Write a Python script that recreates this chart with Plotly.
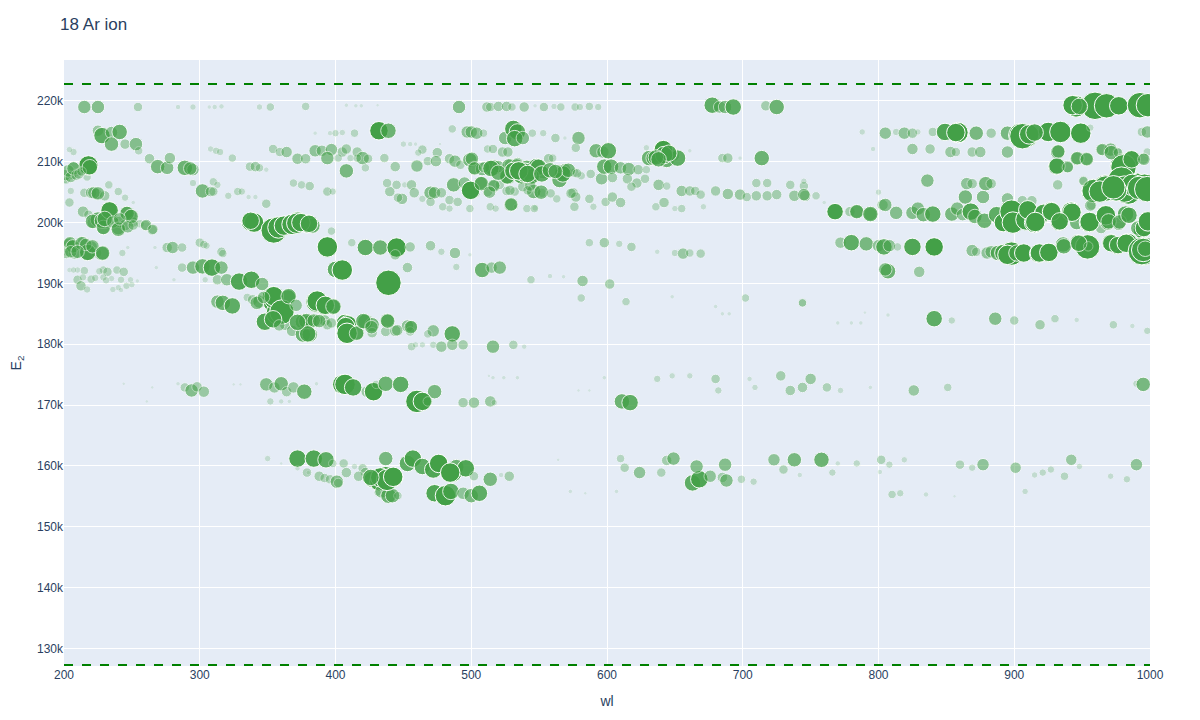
import plotly.graph_objects as go

TITLE = "18 Ar ion"
ionization_limit = 222.8
ground_limit = 127.25
y_ticks = [130, 140, 150, 160, 170, 180, 190, 200, 210, 220]
x_ticks = [200, 300, 400, 500, 600, 700, 800, 900, 1000]

# wavelength (nm), upper level energy (thousands), relative intensity
wl_a = [215,225,254.5,284,295,307,311,316,344,352,378,408,415,419,431,491,511.5,514,520,526,530,539,547,553.5,561,566,576.5,580,587,593.5,677.5,683,687,693,717,725,944.7,947,959.5,968,977,992.6,998.5]
e2_a = [219,219,219,219,219,219,219,219.1,219,219,219.1,219.3,219.2,219.2,219.3,219,219,219,219.1,219.1,219,219,219.2,219,219.1,219,219,219,219.1,219,219.3,219,219,219,219.2,219,219.2,219.2,219.2,219.2,219.2,219.3,219.3]
in_a = [12,12,8,4,5,3,4,4,5,7,7,3,3,3,2,12,9,8,9,9,7,9,3,8,5,7,7,6,7,6,15,11,12,15,9,14,18,17,26,23,17,24,22]

wl_b = [225,228,235,241,235,245,253,255,263,269,276,278,289,295,293,217.7,219,207,217,207,204,203,206,209,212,200,202,205,215,220,224,230,233,240,245,251,204]
e2_b = [215.1,214.3,214.8,214.9,212.9,212.9,212.9,211.8,210.5,209.2,209,210.6,209,208.7,208.9,209.3,209,209.2,207.5,211.6,212,207.5,207.8,208.2,208.4,207,206.9,205.2,204.9,204.9,204.7,204.4,206.2,205.1,204.1,203.3,203.3]
in_b = [10,15,11,14,13,9,12,7,9,13,12,10,14,11,12,17,10,9,7,6,5,8,8,7,7,7,6,6,8,10,10,9,7,7,6,3,8]

wl_c = [214,218,221.5,225,229,230,233,236,240,241,246,249,245,251,256,260,265,204,206,202,208,214,217,220,224,228,243,247,267,276,280,287]
e2_c = [201.8,201.3,200,200.5,199,200.1,202.1,200.5,199.1,200.1,201.6,201.1,199.6,200.1,199.8,199.5,198.8,196.4,196,195,195,196.7,195,196,195,194.9,195,195.9,195.9,195.9,195.9,195.9]
in_c = [10,8,11,14,11,12,15,10,12,10,12,12,10,9,7,9,9,12,12,10,11,11,14,11,9,13,6,3,3,9,11,8]

wl_d = [300,303,305,316,317,287,295,302,309,316,304,313,320,329,338,346,204,210,215,229,232,239,244,210,212.5,217,220,229,235,242,249,246,240,254,268,281,439,394,400,405]
e2_d = [196.7,196.4,196.2,195.2,194.9,192.6,192.6,192.8,192.6,192.6,190.6,190.6,190.6,190.3,190.6,189.9,192.2,192.2,192.1,192.2,191.9,192.2,191.9,190.6,189.6,189,190.7,191,190.8,190.6,190.6,189.6,189.3,190.4,192.6,190.6,190.1,196,192.3,192.2]
in_d = [8,7,6,8,7,8,12,14,16,12,5,9,11,16,16,12,4,5,7,7,8,7,8,8,9,6,7,6,5,6,5,6,5,3,3,3,24,19,15,19]

wl_e = [313,317,324,335,339,344,353,357,365,354,386,392,398,348,358,342,363,368,376,376,381,381,386,392,394,407,409,409,416,422,427,427,438,437,444,453,456,455,472,468,486,456,459,464,472,478,486,494,516,531,539,354]
e2_e = [187,186.8,186.3,187.7,187.3,187,187.7,186,187.7,186.8,187,186.3,186.1,183.7,185.2,186.8,183.2,182.2,183.7,181.6,181.6,183.7,183.9,183.9,183.2,183.5,181.6,183.2,181.9,183.7,183.2,181.9,183.9,182.1,182.2,183,182.9,182.1,182.2,181.7,181.7,179.6,179.9,179.9,179.9,179.6,179.9,179.9,179.6,179.9,179.6,187.3]
in_e = [12,14,15,7,9,12,18,20,14,18,20,17,14,16,23,12,10,10,14,14,14,13,11,10,9,16,16,17,13,14,13,9,13,9,10,11,11,8,11,7,15,7,5,5,6,10,10,9,12,8,4,16]

wl_f = [412,422,433,445,455,470,478,488,499,508,515,521,544,558,568,582,602,581,614,587,598,609,618,637,650,656,661,669,444,453,489,702,744,648,680,685,690,770,780,790]
e2_f = [196.7,195.9,195.9,195.9,196,196.2,195.2,195,194.7,192.2,192.6,192.6,190.6,191.2,191.1,190.4,189.9,187.6,187,196.7,196.7,196.5,196,195.2,195,194.9,195,194.9,194.7,192.6,192.7,187.6,186.8,187.8,186.2,185,185,183.5,183.5,185.2]
in_f = [7,15,14,18,9,9,6,10,3,14,10,12,7,4,3,10,9,7,7,7,9,6,8,4,6,10,7,8,9,9,6,7,7,3,3,3,3,3,3,2]

wl_g = [349,355,360,364,369,377,352,360,366,386,405,407,413,423,428,430,437,448,473,460,464,468,494,502,514,517,513,516,524,534,244,265,284,289,294,298,303,261,325,330,598,611,617,579,587,637,648,661,680,682,705,709,728,735,744,750,762,772,826,851,794,990,995]
e2_g = [173.4,172.9,173.5,172.2,172.9,172.2,170.6,170.6,170.6,173.5,173.4,173.4,172.9,172.2,172.2,173.4,173.5,173.4,172.2,170.6,170.6,170.6,170.4,170.4,170.6,170.4,174.8,174.5,174.5,174.5,173.5,172.9,173.5,172.9,172.4,173,172.2,170.6,173.4,173.4,174.5,170.6,170.4,172.4,172.4,174.3,174.8,174.8,174.3,172.4,174.3,172.9,174.8,172.4,172.9,174.3,172.9,172.4,172.4,172.9,172.9,173.5,173.4]
in_g = [12,10,13,9,10,14,6,4,3,3,18,19,16,10,17,7,14,15,13,21,17,8,9,10,10,5,2,3,3,3,2,2,3,8,12,9,10,2,2,2,3,14,15,2,2,6,5,5,8,6,4,5,9,9,9,10,8,5,10,7,3,6,13]

wl_h = [841,854,886,900,919,930,946,973,987,998,350,372,384,393,398,406,414,420,422,408,417,427,432,437,443,437,453,457,464,472,476,486,489,496,502,514,528,522,473,481,485,494,500,506,434,439,442,446,431,388,392,396,401,402,379,372,380,360]
e2_h = [184.2,183.9,184.2,183.9,183.2,184.2,184,183.2,183,182.2,161.2,161.2,161.2,161,160.4,160.4,159.9,159.6,158.9,158.9,158.3,157.8,157.4,158.3,158.1,161.2,160.4,161.2,159.9,159.4,160.4,158.9,159.8,159.6,158.3,157.8,158.3,158.5,155.5,155.1,155.8,155.5,155.1,155.5,155.8,155.1,155.1,155.1,155.6,158.3,158,157.8,157.4,157.2,158.9,159.6,158.9,160.4]
in_h = [15,6,12,8,9,7,4,7,4,6,5,16,16,15,7,8,5,8,9,9,9,15,17,18,17,13,15,16,15,16,17,18,14,16,8,13,9,4,16,19,15,11,13,15,12,14,13,7,6,9,8,8,12,8,8,4,3,2]

wl_i = [610,613,624,640,644,649,663,668,666,676,687,685,688,699,708,723,730,738,742,758,766,770,784,801,802,808,819,810,816,835,860,869,877,901,908,915,921,927,937,942,948,971,983,990,573,584,607,564,856]
e2_i = [161.2,159.7,158.9,158.9,160.9,161.2,157.2,157.8,159.9,158.3,160.2,158.1,157.6,157.8,157.4,161,159.4,161,158.5,161,158.9,160.4,160.4,159,161,160.2,161,155.3,155.5,155.3,160.2,159.7,160.2,159.7,155.8,158.5,158.9,159.4,158.3,161,159.9,158.3,157.8,160.2,155.8,155.5,155.8,161,155]
in_i = [7,8,11,8,9,12,15,16,12,11,12,9,12,7,6,11,8,13,4,14,6,4,6,4,8,6,5,7,6,4,8,6,11,10,5,5,6,6,7,10,5,5,6,11,3,2,3,2,2]

wl_j = [486,497,500,504,509,525,531,534,532,538,545,553,562,569,579,577,592,597,601,629,631,634,641,646,649,644,652,661,685,689,698,714,464,461,475,512,516,523,527,450,455,459,477]
e2_j = [215.4,214.9,214.9,214.7,214.7,213.9,215.4,214.9,213.8,213.9,214.7,214.7,213.9,213.9,213.9,212.3,211.8,211.6,211.8,212.3,210.6,210.6,212.1,211.6,211.1,210.3,210.6,211.8,210.6,210.6,210.6,210.6,212,211.5,211.5,212.1,212.1,211.6,211.6,212.9,212.9,212.9,212.9]
in_j = [7,11,11,11,7,12,16,15,15,12,7,6,8,3,12,8,13,11,15,5,14,13,16,13,11,14,15,3,8,9,3,14,8,6,9,7,8,9,9,5,4,3,2]

wl_k = [460,468,474,484,488,492,499,502,508,516,520,529,534,527,537,541,548,545,553,567,565,569,576,581,557,560,588,596,598,603,610,616,604,615,623,629,622,628,618,638,644]
e2_k = [209.3,210.1,210.1,210.5,210.1,209.5,210.3,209,208.8,209,209.2,209.5,209.7,207.5,207.8,209,209.2,207.5,208.3,208.3,207,208.7,208.2,207.7,210.5,210.6,208,207.2,209.2,209.2,209,208.8,207.4,207.2,208.7,208.7,206.5,207.2,205.9,206.2,206]
in_k = [11,8,10,9,11,8,13,12,12,15,11,11,11,14,16,14,15,13,12,14,14,11,8,7,9,7,8,11,14,14,11,12,9,9,9,7,9,8,8,10,7]

wl_l = [451,456,458,449,464,470,473,478,470,487,495,500,503,507,484,490,512,517,521,526,532,538,546,552,563,575,577,587,599,604,610,479,484,499,514,518,529,533,541,547,576,590,636,642,655,650,671]
e2_l = [206.2,206.2,204.9,203.9,203.9,204.9,204.9,204.9,203.4,206.2,206.5,205.4,204.9,206.5,203.7,203.4,205.1,206,206.2,205.2,205.1,205.9,205.1,204.9,203.9,204.9,204.2,203.9,203.4,204.2,203.3,202.6,202.3,202.3,202.6,202.3,202.9,202.6,202.3,202.4,202.6,202.6,202.6,203.3,202.3,202.3,202.6]
in_l = [5,9,9,10,6,12,11,9,8,13,11,15,9,12,8,8,9,11,8,8,8,9,13,8,7,9,9,8,8,9,9,7,6,7,7,6,12,4,7,5,8,6,7,9,7,5,5]

wl_m = [655,661,665,669,680,689,698,703,710,718,710,718,725,735,745,738,746,754,760,768,779,784,794,803,800,385,396,400,405,414,432,439,354,359,364,308,312,315,385,390,397,405,408,416,420,424]
e2_m = [205.2,205.2,205.2,204.6,205.2,204.7,204.6,204.2,206.5,206.5,204.4,204.4,204.6,206.2,206,204.4,204.4,204.4,203.3,201.8,201.8,201.8,201.4,202.9,205,214.7,214.7,214.7,214.8,214.7,215.1,215.1,212.1,211.6,211.6,212.1,211.8,211.6,211.8,211.8,212,211.6,212.1,211.6,210.6,210.5]
in_m = [10,9,8,8,9,10,10,8,8,8,9,9,9,8,8,10,10,7,3,15,9,12,12,10,5,3,4,6,5,7,17,14,8,8,10,5,6,6,11,10,11,9,9,9,12,8]

wl_n = [372,378,394,402,411,416,436,408,422,444,324,337,341,344,349,295,310,313,321,328,331,302,308,310,336,341,349,369,375,381,394,398,440,446,438,445,337,342,355,361,366,372,379,383,357,397]
e2_n = [210.5,210.5,210.6,210.6,210.6,210.6,210.6,208.5,209,209.2,210.6,209.2,209.2,209,208.7,206.5,206.7,206.2,204.4,205.1,205.1,205.2,205.1,205.1,204.2,204.2,203.1,206.5,206.2,206,205.1,205.1,205.1,204.1,206.5,206.2,200.1,199.8,198.6,199.5,199.6,200.1,199.8,199.5,200.1,198.6]
in_n = [10,9,12,7,6,7,8,13,7,9,7,8,9,7,4,6,7,6,6,7,6,13,9,8,4,4,8,7,7,8,8,6,9,8,8,8,16,12,22,16,17,19,17,14,9,7]

wl_o = [788,805,813,819,825,829,840,849,859,872,883,895,904,909,913,925,934,949,956,994,998,796,825,838,853,857,869,875,895,932,964,971,976,986,995,946,953,931,939,980,998]
e2_o = [214.9,214.7,214.9,214.7,214.7,214.9,214.9,214.9,214.7,214.7,214.7,214.7,214.3,214.3,214.6,214.9,214.9,214.7,215.6,214.9,214.9,212.1,212.1,212.1,211.6,211.6,211.6,211.6,211.6,211.6,212,212,211.6,210.5,210.5,210.5,210.5,209.2,209.2,209.3,211.6]
in_o = [5,11,6,11,9,5,8,16,18,13,9,13,20,22,15,18,20,19,6,8,11,4,10,9,10,8,9,10,11,13,10,12,8,15,10,12,12,15,11,24,7]

wl_p = [836,865,869,879,883,864,877,895,906,913,951,958,967,969,979,984,991,996,997,957,745,768,784,794,805,813,825,829,833,840,854,858,862,868,871,878,887,892,898,899,909,915,910,921,927,933,942,946,955,967,964,969,977,982,994,998,991]
e2_p = [206.9,206.4,206.4,206.4,206.4,204.2,204.2,203.9,203.6,203.6,206.9,205.2,205.9,205.7,207,205.1,206.2,205.9,205.2,202.9,204.6,201.8,201.8,201.4,202.9,201.6,201.6,202.3,201.3,201.4,201.4,202.3,201.3,201.8,201,200.3,201.3,200,201.8,200,200.5,200,202.1,201.4,201.9,200.1,201.8,200,200,201.4,199.1,200,199.8,201.4,198.8,200.1,199.1]
in_p = [12,11,9,13,9,13,12,11,9,9,8,22,22,20,26,24,22,24,17,9,11,15,13,14,12,12,12,12,13,15,13,12,11,16,13,14,15,17,22,20,20,19,17,16,17,16,18,13,18,16,10,14,12,15,16,18,13]

wl_q = [772,780,791,800,804,808,814,825,841,869,872,880,883,888,892,898,895,902,907,918,925,936,947,954,971,976,984,995,998,807,805,830,744,932,745,807,787]
e2_q = [196.7,196.7,196.5,196.2,196,196.2,196,196,196,195.4,195.2,195,195.2,195,195,194.9,194.7,195,195,194.9,195,196.4,196.7,196,196.7,196.2,196.7,195.2,196,192,192.3,191.9,186.8,206.2,206.8,184.8,183.5]
in_q = [10,15,13,11,15,11,7,16,17,11,8,11,11,14,16,22,18,15,17,17,17,14,15,23,16,16,17,26,17,14,12,10,7,9,5,3,3]

# second pass: companions read from the crowded groups
wl_r = [218,219,201,203,205,207,209,211,213,222,225,221,228,229,233.6,230,236,240,246.5,249.5,241,247,251,260.5,265.5,204.5,206.5,202.5,205,213,217.5,216,221,228.5,210,207,214,223,226,231,236,242,250]
e2_r = [209.4,209.1,207.8,208.5,207.5,208.9,207.8,208,208.4,204.9,204.8,200.2,200.3,199.2,202,200.6,200.1,198.9,201.5,201,200.6,199.3,199.6,199.6,198.9,196.6,196.1,195.1,195.2,196.6,195.1,196.4,196.1,195,195.2,192.2,191,190.9,192,190.5,189,188.9,189.8]
in_r = [18,14,10,11,10,12,9,9,8,11,12,13,14,13,16,14,11,13,13,13,11,11,9,10,9,12,12,8,11,12,15,11,12,13,12,5,6,6,6,6,5,4,5]

wl_s = [931.5,939.5,932.5,946.5,953.5,965,971.5,976.5,980.5,986.5,995.5,958.5,966,971,979,981,987,992,998,956,951,921.5,927.5,915.5,942.5,933.5,955.5,967.5,969.5,977.5,984.5,997,995.5,998.5,918.5,925.5,936.5,947.5,954.5,971.5,976.5,982.5,994,995,996.5,967.5,975,963,973]
e2_s = [209.3,209.1,211.7,210.6,210.4,212,211.5,211.5,209.1,210.4,210.4,205.2,205.4,205.5,206.9,205.5,206.2,205.7,205.5,202.8,206.8,201.6,201.8,200.1,201.7,200.2,200.1,201.2,200.2,200.1,201.2,200.9,199.1,200.2,195,195.1,196.1,196.6,196.1,196.6,196.3,196.6,195.3,195.5,195.7,205.6,205.3,205.1,205.8]
in_s = [15,10,12,12,12,11,13,8,24,16,11,22,22,22,26,25,20,22,24,10,8,16,17,18,17,16,18,18,14,13,15,10,16,18,17,17,14,15,8,16,16,17,26,22,14,24,20,20,22]

wl_t = [500.5,502.5,509.5,514.5,527.5,533.5,526.5,539.5,549.5,544.5,567.5,571.5,578,499.5,507.5,516.5,513.5,528.5,543.5,541.5,551.5,558.5,573.5,529.5,546.5,520,531,535,541.5,552,558,562]
e2_t = [210.5,208.9,209.1,208.9,209.4,209.4,207.6,208.2,209.1,207.6,208,208.6,208.1,205.3,206.4,206.1,205,205.3,206.1,205.3,205,204.8,204.8,203,202.3,208.2,208.5,208.5,208,208,208.6,208.4]
in_t = [12,12,10,15,12,12,14,18,15,14,15,13,8,17,13,11,11,9,10,8,13,8,9,12,7,14,16,17,16,15,14,13]

wl_u = [354.5,347,360.5,354,365.5,371,386.5,392.5,398.5,358.5,378.5,384,379.5,407.5,408.5,415.5,420.5,426.5,438.5,445.5,455.5,372,388,397,433,438,442.5,426,484.5,340,337.5,354.5,358,362,368,371.5,374.5,380.5,904.5,906,911,915,858.5,857,945.5,943,948,641.5,642,645.5,636,638]
e2_u = [187.9,187.7,185.3,184.1,187.9,186.4,187.1,186.4,186.2,183.1,183.8,183.9,181.7,182.9,181.8,181.8,183.8,182.8,183.8,182.3,182.8,183.6,183.8,183.5,158.1,157.7,158.2,158.1,158.9,200,200.3,198.7,199.2,199.5,199.7,199.9,200,199.8,214.4,214.2,214.5,214.8,214.8,214.8,219.1,219.3,219.1,212,211.1,211.4,210.7,210.4]
in_u = [18,11,23,16,14,11,19,17,14,10,14,12,15,17,19,13,14,12,13,10,12,15,12,9,18,20,18,15,18,18,16,24,20,18,19,19,17,16,22,24,18,16,19,17,20,18,15,17,16,15,14,14]

bands = [
    (wl_a, e2_a, in_a), (wl_b, e2_b, in_b), (wl_c, e2_c, in_c), (wl_d, e2_d, in_d),
    (wl_e, e2_e, in_e), (wl_f, e2_f, in_f), (wl_g, e2_g, in_g), (wl_h, e2_h, in_h),
    (wl_i, e2_i, in_i), (wl_j, e2_j, in_j), (wl_k, e2_k, in_k), (wl_l, e2_l, in_l),
    (wl_m, e2_m, in_m), (wl_n, e2_n, in_n), (wl_o, e2_o, in_o), (wl_p, e2_p, in_p),
    (wl_q, e2_q, in_q), (wl_r, e2_r, in_r), (wl_s, e2_s, in_s), (wl_t, e2_t, in_t),
    (wl_u, e2_u, in_u),
]

xs, ys, vals = [], [], []
for w, e, v in bands:
    for a, b, c in zip(w, e, v):
        xs.append(a)
        ys.append(b * 1000)
        vals.append(c)

sizes = [v + 1.5 for v in vals]
opac = [min(1.0, 0.1 + 0.9 * (v / 17.0) ** 1.7) for v in vals]

fig = go.Figure(go.Scatter(
    x=xs, y=ys, mode="markers",
    marker=dict(size=sizes, sizemode="diameter", color="#43A047", opacity=opac,
                line=dict(color="white", width=1)),
    hoverinfo="x+y",
))

for lvl in (ionization_limit, ground_limit):
    fig.add_shape(type="line", xref="paper", x0=0, x1=1, yref="y", y0=lvl * 1000, y1=lvl * 1000,
                  line=dict(color="green", width=2, dash="dash"))

fig.update_layout(
    template="plotly",
    font=dict(family="Arial, 'Liberation Sans', sans-serif"),
    width=1184, height=704,
    margin=dict(l=56, r=42, t=52, b=46),
    title=dict(text=TITLE, x=0.044, xref="container", y=0.977, yanchor="middle", xanchor="left", font=dict(size=17)),
    showlegend=False,
    xaxis=dict(title=dict(text="wl", font=dict(size=14)), range=[200, 1000], tickvals=x_ticks, ticks="",
               tickfont=dict(size=12), zeroline=False, automargin=False),
    yaxis=dict(title=dict(text="E<sub>2</sub>", font=dict(size=14)), range=[127100, 226730],
               tickvals=[t * 1000 for t in y_ticks], ticktext=[f"{t}k" for t in y_ticks],
               tickfont=dict(size=12), zeroline=False, automargin=False),
)
fig.write_html("out.html")
